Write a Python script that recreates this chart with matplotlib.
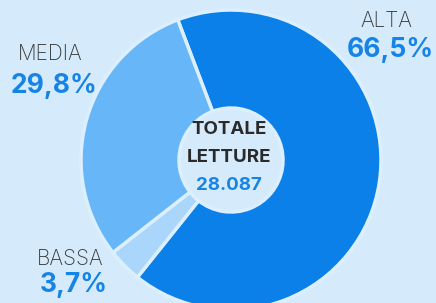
import matplotlib.pyplot as plt

# dati
categorie = ["ALTA", "BASSA", "MEDIA"]
percentuali = [66.5, 3.7, 29.8]
etichette_perc = ["66,5%", "3,7%", "29,8%"]
colori = ["#0a80e8", "#aad6fb", "#66b6f8"]
totale = "28.087"

sfondo = "#d5ebfc"
blu_testo = "#1683e6"

plt.rcParams['font.family'] = ['Inter', 'DejaVu Sans']

fig = plt.figure(figsize=[4.36, 3.03], dpi=100, facecolor=sfondo)
ax = fig.add_axes([0, 0, 1, 1])
ax.set_facecolor(sfondo)

H = 303
cx, cy = 231, H - 160
r_ext, r_int = 150, 52

ax.pie(percentuali, colors=colori, startangle=110.8, counterclock=False,
       center=(cx, cy), radius=r_ext,
       wedgeprops=dict(width=r_ext - r_int, edgecolor="#dcefff", linewidth=2.5))

ax.set_xlim(0, 436)
ax.set_ylim(0, H)
ax.set_aspect('equal')
ax.axis('off')

# etichette esterne
pos = {"ALTA": (386, 21, 50), "MEDIA": (50, 54, 86), "BASSA": (70, 259, 285)}
for nome, perc in zip(categorie, etichette_perc):
    x, y1, y2 = pos[nome]
    ax.text(x, H - y1, nome, ha='center', va='center', fontsize=15,
            fontweight='light', color="#3a3a3a")
    ax.text(x + 4, H - y2, perc, ha='center', va='center', fontsize=19,
            fontweight='bold', color=blu_testo)

# testo centrale
ax.text(229, H - 130, "TOTALE", ha='center', va='center', fontsize=13.5,
        fontweight='bold', color="#2a2a2a")
ax.text(229, H - 158, "LETTURE", ha='center', va='center', fontsize=13.5,
        fontweight='bold', color="#2a2a2a")
ax.text(229, H - 185, totale, ha='center', va='center', fontsize=13.5,
        fontweight='bold', color=blu_testo)

plt.savefig("out.png", dpi=100, facecolor=sfondo)
